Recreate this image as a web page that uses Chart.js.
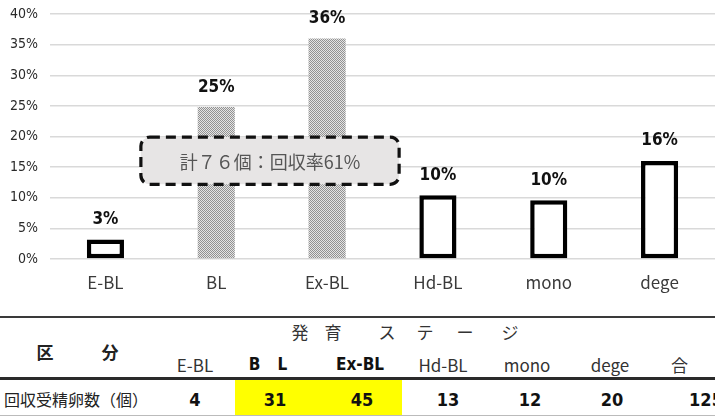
<!DOCTYPE html>
<html>
<head>
<meta charset="utf-8">
<script src="https://cdn.jsdelivr.net/npm/chart.js@4/dist/chart.umd.min.js"></script>
<style>
  html, body { margin: 0; padding: 0; background: #fff; }
  #wrap { position: relative; width: 715px; height: 417px; overflow: hidden; background: #fff; }
  #cv { position: absolute; left: 0; top: 0; }
  .t { position: absolute; white-space: nowrap; color: #222; font-family: "Noto Sans CJK JP", "Noto Sans", sans-serif; line-height: 1; }
  .c { transform: translateX(-50%); }
  .hl { position: absolute; background: #ffff00; }
  .ln { position: absolute; left: 0; width: 715px; }
</style>
</head>
<body>
<div id="wrap">
  <canvas id="cv" width="715" height="300"></canvas>
</div>
<script>
// ---- data ----
const categories = ['E-BL', 'BL', 'Ex-BL', 'Hd-BL', 'mono', 'dege'];
const rates = [3.2, 24.8, 36.0, 10.4, 9.6, 16.0];
const rateLabels = ['3%', '25%', '36%', '10%', '10%', '16%'];
const patterned = [false, true, true, false, false, false];
const yMax = 40;
const yStep = 5;
const noteText = '計７６個：回収率61%';
const noteRange = { x0: 0.32, x1: 2.65, y0: 12.2, y1: 19.9 };

const tableRowLabel = '回収受精卵数（個）';
const tableHeads = ['E-BL', 'B　L', 'Ex-BL', 'Hd-BL', 'mono', 'dege', '合　　計'];
const tableCounts = ['4', '31', '45', '13', '12', '20', '125'];
const stageTitle = ['発', '育', 'ス', 'テ', 'ー', 'ジ'];

// ---- pattern fill for the stippled bars ----
function makePattern() {
  const pc = document.createElement('canvas');
  pc.width = 2; pc.height = 2;
  const p = pc.getContext('2d');
  p.fillStyle = '#e4e4e4';
  p.fillRect(0, 0, 2, 2);
  p.fillStyle = '#929292';
  p.fillRect(0, 0, 1, 1);
  p.fillRect(1, 1, 1, 1);
  return document.getElementById('cv').getContext('2d').createPattern(pc, 'repeat');
}
const stipple = makePattern();

const labelPlugin = {
  id: 'barLabels',
  afterDatasetsDraw(chart) {
    const ctx = chart.ctx;
    const meta = chart.getDatasetMeta(0);
    ctx.save();
    ctx.font = 'bold 17px "DejaVu Sans Condensed", "DejaVu Sans", sans-serif';
    ctx.fillStyle = '#111';
    ctx.textAlign = 'center';
    ctx.textBaseline = 'middle';
    meta.data.forEach((bar, i) => {
      ctx.fillText(rateLabels[i], bar.x, bar.y - 20);
    });
    ctx.restore();
  }
};

const notePlugin = {
  id: 'note',
  afterDraw(chart) {
    const ctx = chart.ctx;
    const xs = chart.scales.x, ys = chart.scales.y;
    const x0 = xs.getPixelForValue(noteRange.x0), x1 = xs.getPixelForValue(noteRange.x1);
    const y0 = ys.getPixelForValue(noteRange.y1), y1 = ys.getPixelForValue(noteRange.y0);
    ctx.save();
    ctx.beginPath();
    ctx.roundRect(x0, y0, x1 - x0, y1 - y0, 9);
    ctx.fillStyle = '#e7e5e5';
    ctx.fill();
    ctx.setLineDash([10, 6]);
    ctx.lineWidth = 3.2;
    ctx.strokeStyle = '#111';
    ctx.stroke();
    ctx.setLineDash([]);
    ctx.font = '18px "Noto Sans CJK JP", sans-serif';
    ctx.fillStyle = '#555';
    ctx.textAlign = 'center';
    ctx.textBaseline = 'middle';
    ctx.fillText(noteText, (x0 + x1) / 2, (y0 + y1) / 2 + 1);
    ctx.restore();
  }
};

new Chart(document.getElementById('cv'), {
  type: 'bar',
  data: {
    labels: categories,
    datasets: [{
      data: rates,
      backgroundColor: patterned.map(p => p ? stipple : '#ffffff'),
      borderColor: '#000',
      borderWidth: patterned.map(p => p ? 0 : 4.5),
      borderSkipped: false,
      barPercentage: 0.335,
      categoryPercentage: 1
    }]
  },
  options: {
    responsive: false,
    animation: false,
    devicePixelRatio: 1,
    layout: { padding: { top: 14, right: 0, left: 0, bottom: 0 } },
    plugins: { legend: { display: false }, tooltip: { enabled: false } },
    scales: {
      x: {
        grid: { display: false },
        border: { display: false },
        ticks: { color: '#3a3a3a', font: { size: 17, family: '"Noto Sans CJK JP", sans-serif' }, padding: 5 },
        afterFit(s) { s.height = 41; s.paddingLeft = 0; s.paddingRight = 0; }
      },
      y: {
        min: 0, max: yMax,
        ticks: {
          stepSize: yStep,
          callback: v => v + '%',
          color: '#2a2a2a',
          font: { size: 14, family: '"DejaVu Sans Condensed", "DejaVu Sans", sans-serif' },
          padding: 12
        },
        grid: { color: '#d9d9d9', lineWidth: 1.5, drawTicks: false },
        border: { display: false },
        afterFit(s) { s.width = 50; s.paddingTop = 0; s.paddingBottom = 0; }
      }
    }
  },
  plugins: [labelPlugin, notePlugin]
});

// ---- table below the chart ----
const wrap = document.getElementById('wrap');
function add(cls, text, style) {
  const d = document.createElement('div');
  d.className = cls;
  if (text !== null) d.textContent = text;
  Object.assign(d.style, style);
  wrap.appendChild(d);
  return d;
}
const colX = [195, 275, 362, 448, 530, 612, 706];
const headX = [195, 268, 360, 443, 527, 610, 705];
add('hl', null, { left: '235px', top: '379px', width: '167px', height: '37px' });
add('ln', null, { top: '316px', height: '2px', background: '#3a3a3a' });
add('ln', null, { top: '377px', height: '3px', background: '#2a2a2a' });
add('ln', null, { top: '415px', height: '1px', background: '#bbb' });

add('t c', '区', { left: '45px', top: '343px', fontSize: '17px', fontWeight: 'bold' });
add('t c', '分', { left: '110px', top: '343px', fontSize: '17px', fontWeight: 'bold' });
const stageX = [300, 333, 387, 425, 465, 510];
stageTitle.forEach((s, i) => add('t c', s, { left: stageX[i] + 'px', top: '323px', fontSize: '17px', color: '#333' }));
tableHeads.forEach((h, i) => {
  const bold = (i === 1 || i === 2);
  add('t c', h, {
    left: headX[i] + 'px', top: '356px', fontSize: '17px',
    fontWeight: bold ? 'bold' : 'normal', color: bold ? '#111' : '#333',
    fontFamily: bold ? '"DejaVu Sans Condensed", "DejaVu Sans", sans-serif' : '"Noto Sans CJK JP", sans-serif'
  });
});
add('t', tableRowLabel, { left: '4px', top: '391px', fontSize: '16px', color: '#222' });
tableCounts.forEach((n, i) => add('t c', n, {
  left: colX[i] + 'px', top: '391px', fontSize: '18px', fontWeight: 'bold', color: '#111',
  fontFamily: '"DejaVu Sans Condensed", "DejaVu Sans", sans-serif'
}));
</script>
</body>
</html>
